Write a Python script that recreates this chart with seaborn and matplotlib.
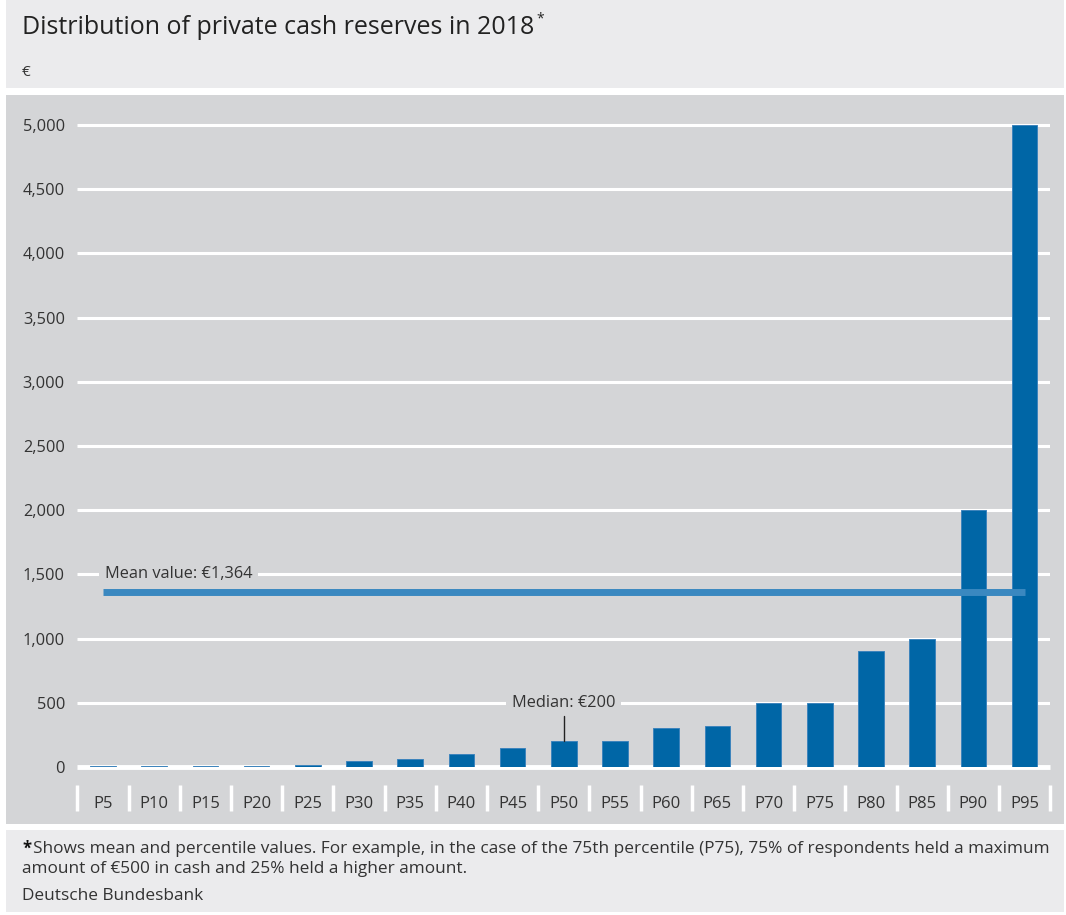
import matplotlib
matplotlib.use("Agg")
import matplotlib.pyplot as plt
import seaborn as sns
import pandas as pd
from matplotlib.patches import Rectangle
from matplotlib.ticker import FuncFormatter

categories = ["P5", "P10", "P15", "P20", "P25", "P30", "P35", "P40", "P45", "P50",
              "P55", "P60", "P65", "P70", "P75", "P80", "P85", "P90", "P95"]
values = [5, 5, 5, 5, 15, 50, 60, 100, 150, 200, 200, 300, 320, 500, 500, 900, 1000, 2000, 5000]
mean_value = 1364
median_value = 200
yticks = [0, 500, 1000, 1500, 2000, 2500, 3000, 3500, 4000, 4500, 5000]

title = "Distribution of private cash reserves in 2018"
unit = "€"
footnote1 = "Shows mean and percentile values. For example, in the case of the 75th percentile (P75), 75% of respondents held a maximum"
footnote2 = "amount of €500 in cash and 25% held a higher amount."
source = "Deutsche Bundesbank"

sns.set_theme(style="white")
plt.rcParams['font.family'] = ['Open Sans', 'DejaVu Sans']

W, H = 1066, 915
fig = plt.figure(figsize=(W / 100, H / 100), dpi=100)
fig.patch.set_facecolor("white")

def fx(px):
    return px / W

def fy(py):
    return 1 - py / H

HEADER = "#EBEBED"
PLOTBG = "#D4D5D7"
TXT = "#333333"
BAR = "#0066A6"
MEAN = "#3A88C0"

# background bands
for (top, bottom, col) in [(0, 88, HEADER), (95, 824, PLOTBG), (830, 912, HEADER)]:
    fig.patches.append(Rectangle((fx(6), fy(bottom)), fx(1058), (bottom - top) / H,
                                 transform=fig.transFigure, facecolor=col, edgecolor="none",
                                 zorder=-5))

# axes
y0_px = 767
ymax = 5150
px_per_unit = (767 - 125) / 5000
top_px = y0_px - ymax * px_per_unit
left_px, right_px = 77.4, 1050.2
ax = fig.add_axes([fx(left_px), fy(y0_px), (right_px - left_px) / W, (y0_px - top_px) / H])
ax.patch.set_alpha(0)

# title
title_obj = fig.text(fx(22), fy(28), title, fontsize=18, color="#222222", va="center", ha="left")
ax.annotate("*", xy=(1, 1), xycoords=title_obj, xytext=(1.5, 3), textcoords="offset points",
            fontsize=10, color="#222222", va="top", ha="left", annotation_clip=False)
fig.text(fx(22), fy(72), unit, fontsize=11, color=TXT, va="center", ha="left")

df = pd.DataFrame({"cat": categories, "val": values})
sns.barplot(data=df, x="cat", y="val", color=BAR, saturation=1, width=0.5, ax=ax,
            edgecolor="#3D84BC", linewidth=0.7, zorder=3)

ax.set_xlim(-0.5, len(categories) - 0.5)
ax.set_ylim(0, ymax)
for s in ax.spines.values():
    s.set_visible(False)

# gridlines
ax.set_yticks(yticks)
for t in yticks:
    if t == 0:
        ax.plot([-0.5, len(categories) - 0.5], [0, 0], color="white", lw=3.5, zorder=2,
                solid_capstyle="butt", clip_on=False)
    else:
        ax.plot([-0.5, len(categories) - 0.5], [t, t], color="white", lw=2.2, zorder=1,
                solid_capstyle="butt")
ax.yaxis.set_major_formatter(FuncFormatter(lambda v, p: f"{int(v):,}"))
ax.tick_params(axis="y", length=0, pad=9, labelsize=11.8, labelcolor=TXT)
ax.tick_params(axis="x", length=0, pad=21, labelsize=12, labelcolor=TXT)
ax.set_xlabel("")
ax.set_ylabel("")

# category separators
for i in range(len(categories) + 1):
    ax.plot([i - 0.5, i - 0.5], [-18 / px_per_unit, -44 / px_per_unit], color="white", lw=2.5,
            clip_on=False, zorder=4, solid_capstyle="butt")

# mean line
ax.plot([0, len(categories) - 1], [mean_value, mean_value], color=MEAN, lw=5, zorder=5,
        solid_capstyle="butt")
ax.text(0.03, 1500, f"Mean value: €{mean_value:,}", fontsize=11.8, color=TXT, va="center", ha="left",
        zorder=6, bbox=dict(facecolor=PLOTBG, edgecolor="none", pad=4))

# median annotation
mi = categories.index("P50")
ax.text(mi, 500, f"Median: €{median_value}", fontsize=11.8, color=TXT, va="center", ha="center",
        zorder=6, bbox=dict(facecolor=PLOTBG, edgecolor="none", pad=4))
ax.plot([mi, mi], [median_value, median_value + 25 / px_per_unit], color="#222222",
        lw=1, zorder=6)

# footnotes
fig.text(fx(22), fy(849), "*", fontsize=12, color="#111111", va="center", ha="left", fontweight="bold")
fig.text(fx(33), fy(849), footnote1, fontsize=12.4, color=TXT, va="center", ha="left")
fig.text(fx(22), fy(869), footnote2, fontsize=12.4, color=TXT, va="center", ha="left")
fig.text(fx(22), fy(896), source, fontsize=12.4, color=TXT, va="center", ha="left")

fig.savefig("out.png", dpi=100, facecolor="white")
